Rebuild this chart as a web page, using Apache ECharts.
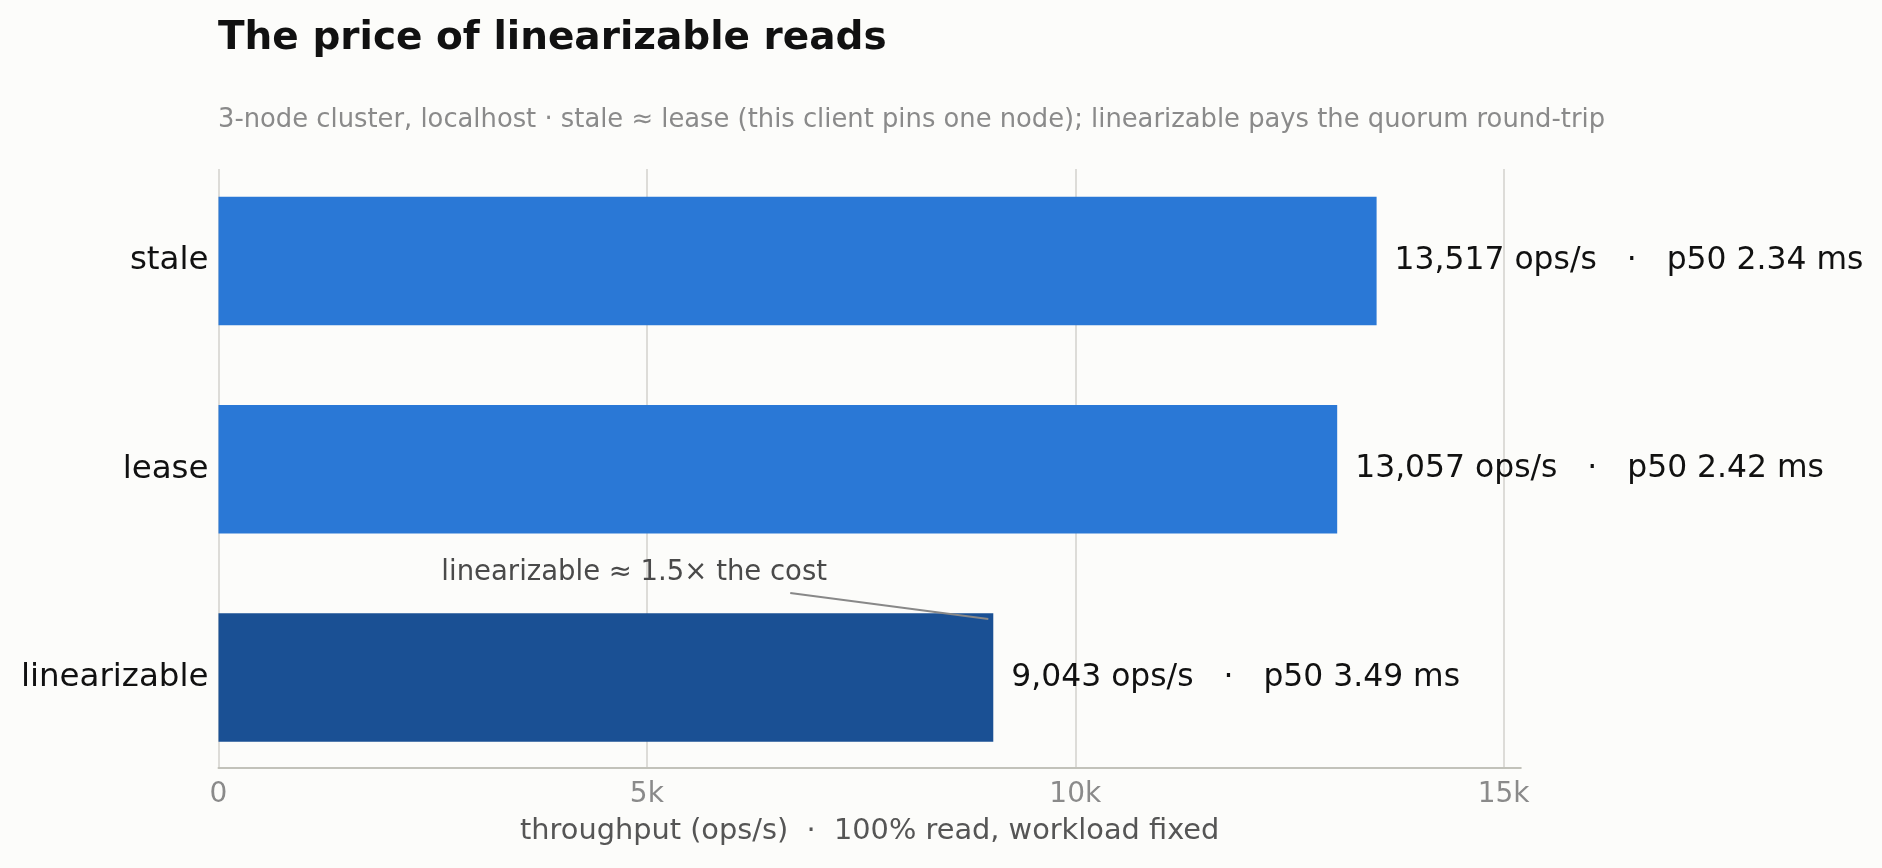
<!DOCTYPE html>
<html>
<head>
<meta charset="utf-8">
<title>The price of linearizable reads</title>
<script src="https://cdn.jsdelivr.net/npm/echarts/dist/echarts.min.js"></script>
<style>
  html, body { margin: 0; padding: 0; background: #fcfcfa; }
  #main { width: 1882px; height: 868px; }
</style>
</head>
<body>
<div id="main"></div>
<script>
// data
var categories = ['stale', 'lease', 'linearizable'];
var throughput = [13517, 13057, 9043];
var p50 = [2.34, 2.42, 3.49];
var xTickLabels = ['0', '5k', '10k', '15k'];

var FONT = '"DejaVu Sans", sans-serif';
var blue = '#2a78d6';
var darkBlue = '#1a5094';

function fmtNum(v) {
    return String(v).replace(/\B(?=(\d{3})+(?!\d))/g, ',');
}

var myChart = echarts.init(document.getElementById('main'));

var option = {
    backgroundColor: '#fcfcfa',
    animation: false,
    title: [
        {
            text: 'The price of linearizable reads',
            left: 218, top: 19, padding: 0,
            textStyle: { fontFamily: FONT, fontSize: 39, fontWeight: 'bold', color: '#111' }
        },
        {
            text: '3-node cluster, localhost \u00b7 stale \u2248 lease (this client pins one node); linearizable pays the quorum round-trip',
            left: 218, top: 107, padding: 0,
            textStyle: { fontFamily: FONT, fontSize: 25.8, fontWeight: 'normal', color: '#8a8a8a' }
        }
    ],
    grid: [
        // bars
        { left: 218.5, width: 1302.3, top: 156.9, height: 624.8, outerBoundsMode: 'none' },
        // axis line + gridlines
        { left: 218.5, width: 1302.3, top: 169, height: 599, outerBoundsMode: 'none' }
    ],
    xAxis: [
        { gridIndex: 0, type: 'value', min: 0, max: 15200, show: false },
        {
            gridIndex: 1, type: 'value', min: 0, max: 15200, interval: 5000,
            axisLine: { show: true, lineStyle: { color: '#c2c2ba', width: 2 } },
            axisTick: { show: false },
            axisLabel: {
                showMaxLabel: false,
                margin: 13,
                fontFamily: FONT, fontSize: 28, color: '#8a8a8a',
                formatter: function (v) { return xTickLabels[Math.round(v / 5000)] || ''; }
            },
            splitLine: { show: true, showMaxLine: false, lineStyle: { color: '#dddcd8', width: 2 } },
            name: 'throughput (ops/s)  \u00b7  100% read, workload fixed',
            nameLocation: 'middle',
            nameGap: 49,
            nameTextStyle: { fontFamily: FONT, fontSize: 28.8, color: '#555' }
        }
    ],
    yAxis: [
        {
            gridIndex: 0, type: 'category', inverse: true, data: categories,
            axisLine: { show: false }, axisTick: { show: false }, splitLine: { show: false },
            axisLabel: { margin: 10, padding: [13, 0, 0, 0], fontFamily: FONT, fontSize: 32.5, color: '#111' }
        },
        { gridIndex: 1, type: 'value', min: 0, max: 1, show: false, splitLine: { show: false } },
        // hidden value axis matching the category bands, for the annotation
        { gridIndex: 0, type: 'value', min: -0.5, max: 2.5, inverse: true, show: false, splitLine: { show: false } }
    ],
    series: [
        {
            type: 'bar',
            xAxisIndex: 0, yAxisIndex: 0,
            barWidth: 128.5,
            data: throughput,
            itemStyle: {
                color: function (p) { return p.name === 'linearizable' ? darkBlue : blue; }
            },
            label: {
                show: true,
                position: 'right',
                distance: 18,
                fontFamily: FONT, fontSize: 31.4, color: '#111',
                formatter: function (p) {
                    return fmtNum(p.value) + ' ops/s   \u00b7   p50 ' + p50[p.dataIndex].toFixed(2) + ' ms';
                }
            },
            silent: true
        },
        {
            // annotation leader line
            type: 'line',
            xAxisIndex: 0, yAxisIndex: 2,
            data: [[6673, 1.594], [8985, 1.719]],
            symbol: 'none',
            lineStyle: { color: '#888', width: 2 },
            silent: true
        },
        {
            // annotation text
            type: 'scatter',
            xAxisIndex: 0, yAxisIndex: 2,
            data: [[4852, 1.495]],
            symbolSize: 0,
            itemStyle: { opacity: 1 },
            label: {
                show: true, position: 'inside', opacity: 1,
                fontFamily: FONT, fontSize: 27.5, color: '#4a4a4a',
                formatter: 'linearizable \u2248 1.5\u00d7 the cost'
            },
            silent: true
        }
    ]
};

myChart.setOption(option);
</script>
</body>
</html>
